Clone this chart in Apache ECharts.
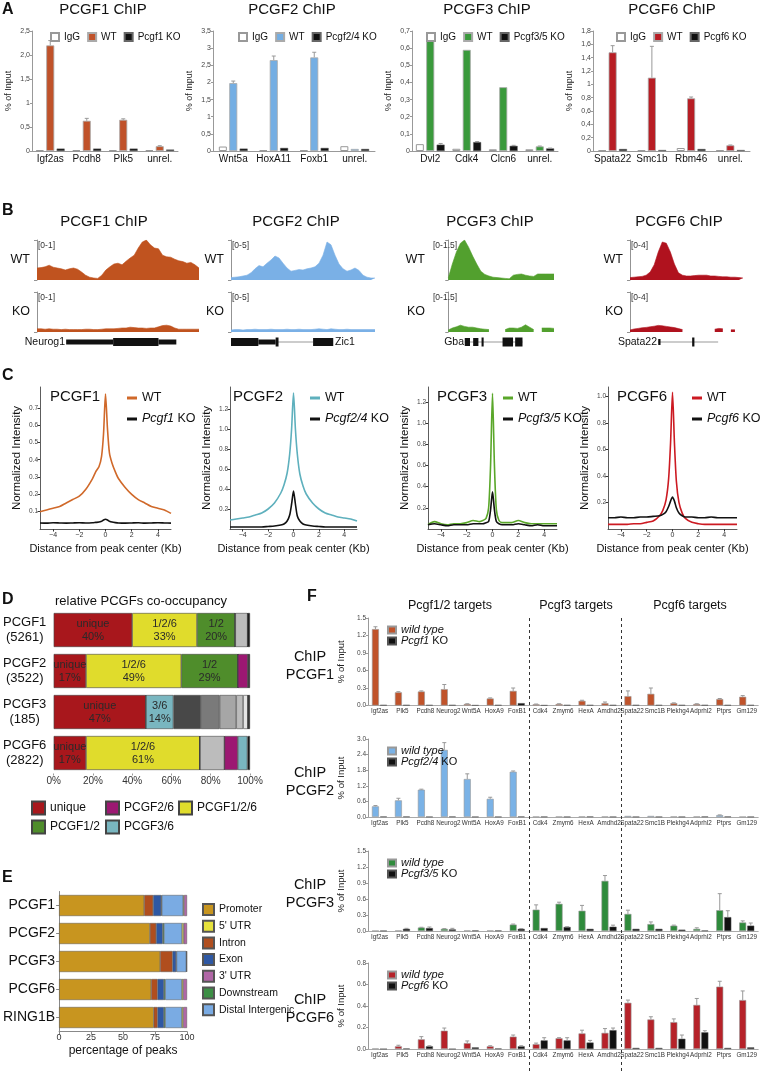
<!DOCTYPE html>
<html><head><meta charset="utf-8">
<script src="https://cdn.jsdelivr.net/npm/echarts@6/dist/echarts.min.js"></script>
<style>html,body{margin:0;padding:0;background:#fff}#c{width:760px;height:1071px}</style>
</head><body><div id="c"></div>
<script>
// ================= DATA =================
// Panel A
const a1Cats = ['Igf2as','Pcdh8','Plk5','unrel.'];
const a1IgG = [0.02,0.02,0.02,0.02];
const a1WT = [2.2,0.63,0.65,0.10];
const a1WTerr = [0.1,0.05,0.02,0.01];
const a1KO = [0.05,0.05,0.05,0.03];
const a1KOerr = [0,0,0,0];
const a1Ticks = ['0','0,5','1','1,5','2,0','2,5'];

const a2Cats = ['Wnt5a','HoxA11','Foxb1','unrel.'];
const a2IgG = [0.13,0.02,0.02,0.14];
const a2WT = [1.98,2.65,2.73,0.06];
const a2WTerr = [0.06,0.12,0.15,0];
const a2KO = [0.07,0.09,0.09,0.06];
const a2KOerr = [0,0,0,0];
const a2Ticks = ['0','0,5','1','1,5','2','2,5','3','3,5'];

const a3Cats = ['Dvl2','Cdk4','Clcn6','unrel.'];
const a3IgG = [0.04,0.013,0.01,0.01];
const a3WT = [0.665,0.59,0.372,0.027];
const a3WTerr = [0,0,0,0.002];
const a3KO = [0.037,0.052,0.03,0.015];
const a3KOerr = [0.007,0.003,0.003,0.002];
const a3Ticks = ['0','0,1','0,2','0,3','0,4','0,5','0,6','0,7'];

const a6Cats = ['Spata22','Smc1b','Rbm46','unrel.'];
const a6IgG = [0.01,0.01,0.045,0.01];
const a6WT = [1.48,1.1,0.79,0.085];
const a6WTerr = [0.1,0.47,0.02,0.005];
const a6KO = [0.03,0.015,0.03,0.015];
const a6KOerr = [0,0,0,0];
const a6Ticks = ['0','0,2','0,4','0,6','0,8','1','1,2','1,4','1,6','1,8'];

// Panel B (genome browser tracks)
const b1WT = [0.30,0.31,0.33,0.37,0.32,0.30,0.28,0.25,0.28,0.30,0.27,0.20,0.12,0.07,0.05,0.04,0.12,0.25,0.33,0.40,0.42,0.38,0.47,0.55,0.62,0.80,0.95,1.0,0.88,0.80,0.78,0.62,0.58,0.57,0.52,0.48,0.46,0.42,0.44,0.38,0.30];
const b1KO = [0.08,0.08,0.07,0.08,0.07,0.07,0.06,0.07,0.06,0.06,0.06,0.06,0.07,0.07,0.06,0.06,0.07,0.08,0.08,0.08,0.09,0.10,0.10,0.12,0.11,0.10,0.10,0.09,0.10,0.10,0.13,0.16,0.17,0.15,0.10,0.07,0.07,0.07,0.07,0.07,0.07];
const b2WT = [0.3,0.35,0.4,0.5,0.6,0.9,1.4,1.8,1.65,2.1,2.5,3.0,2.75,2.1,1.5,1.1,1.2,1.3,1.25,1.4,1.5,1.65,2.1,3.1,4.75,4.4,3.1,2.0,1.4,1.1,1.25,1.5,1.2,0.6,0.35,0.25,0.25];
const b2KO = [0.25,0.3,0.3,0.25,0.3,0.3,0.35,0.3,0.3,0.3,0.35,0.3,0.3,0.3,0.35,0.3,0.3,0.35,0.3,0.3,0.3,0.35,0.4,0.35,0.3,0.4,0.35,0.3,0.3,0.35,0.3,0.3,0.3,0.3,0.3,0.3,0.3];
const b3WT = [0.075,0.6,1.05,1.38,1.5,1.23,0.9,0.6,0.33,0.21,0.15,0.105,0.09,0.075,0.06,0.045,0.18,0.21,0.225,0.18,0.15,0.135,0.225,0.225,0.225,0.225,0.225];
const b3KO = [0.075,0.15,0.195,0.255,0.21,0.18,0.18,0.15,0.12,0.105,0.09,null,null,null,0.09,0.15,0.15,0.135,0.18,0.27,0.18,0.09,null,0.15,0.15,0.15,0.135];
const b6WT = [0.24,0.28,0.32,0.36,0.48,0.8,1.52,2.8,3.8,3.68,2.8,1.6,0.72,0.48,0.4,0.4,0.44,0.48,0.48,0.48,0.4,0.4,0.36,0.32,0.32,0.28,0.28,0.24,0.2];
const b6KO = [0.2,0.3,0.36,0.42,0.46,0.52,0.58,0.66,0.62,0.56,0.5,0.44,0.34,0.24,null,null,null,null,null,null,null,0.28,0.36,0.32,null,0.22,0.22,null,null];
// gene models: [start%, end%, thickness]
const g1Exons = [[18,47,5],[47,75,8],[75,86,5]];
const g2Exons = [[31,57,1],[0,19,8],[19,31,5],[31,33,9],[57,71,8]];
const g3Exons = [[15,70,1],[15,20,8],[23,28,8],[31,33,9],[51,61,9],[63,70,9]];
const g6Exons = [[25,78,1],[55,57,9],[25,27,6]];

// Panel C (profiles)
const cX = [-5,-4.5,-4,-3.5,-3,-2.5,-2,-1.5,-1,-0.75,-0.5,-0.3,-0.15,0,0.15,0.3,0.5,0.75,1,1.5,2,2.5,3,3.5,4,4.5,5];
const cXTicks = [-4,-2,0,2,4];
const c1WT = [0.10,0.11,0.12,0.13,0.15,0.17,0.19,0.23,0.29,0.33,0.36,0.42,0.55,0.78,0.58,0.44,0.38,0.33,0.29,0.24,0.20,0.17,0.15,0.13,0.12,0.11,0.09];
const c1KO = [0.035,0.034,0.036,0.035,0.034,0.035,0.036,0.035,0.036,0.038,0.04,0.045,0.052,0.056,0.052,0.045,0.04,0.037,0.035,0.034,0.035,0.036,0.034,0.035,0.036,0.035,0.034];
const c2WT = [0.09,0.10,0.11,0.12,0.14,0.16,0.20,0.26,0.36,0.44,0.56,0.75,1.0,1.36,1.0,0.75,0.55,0.43,0.35,0.26,0.20,0.16,0.14,0.12,0.11,0.10,0.08];
const c2KO = [0.02,0.02,0.02,0.02,0.02,0.02,0.025,0.03,0.04,0.05,0.08,0.14,0.25,0.38,0.25,0.13,0.08,0.05,0.04,0.03,0.025,0.02,0.02,0.02,0.02,0.02,0.02];
const c3WT = [0.04,0.07,0.05,0.04,0.05,0.05,0.06,0.08,0.07,0.08,0.10,0.20,0.60,1.28,0.60,0.18,0.08,0.06,0.06,0.06,0.08,0.06,0.05,0.05,0.05,0.05,0.05];
const c3KO = [0.04,0.05,0.04,0.03,0.04,0.04,0.04,0.05,0.05,0.05,0.06,0.07,0.18,0.35,0.18,0.07,0.05,0.04,0.04,0.04,0.05,0.04,0.03,0.04,0.03,0.03,0.03];
const c6WT = [0.035,0.035,0.035,0.035,0.04,0.04,0.05,0.06,0.10,0.14,0.22,0.38,0.65,1.03,0.65,0.36,0.20,0.12,0.08,0.05,0.04,0.035,0.035,0.035,0.035,0.035,0.035];
const c6KO = [0.085,0.085,0.09,0.085,0.085,0.09,0.09,0.095,0.10,0.11,0.13,0.17,0.21,0.24,0.21,0.16,0.12,0.10,0.09,0.09,0.085,0.085,0.09,0.085,0.085,0.085,0.085];
const c1Ticks = [0.1,0.2,0.3,0.4,0.5,0.6,0.7];
const c2Ticks = [0.2,0.4,0.6,0.8,1.0,1.2];
const c3Ticks = [0.2,0.4,0.6,0.8,1.0,1.2];
const c6Ticks = [0.2,0.4,0.6,0.8,1.0];

// Panel D (co-occupancy, %)
const dRows = ['PCGF1\n(5261)','PCGF2\n(3522)','PCGF3\n(185)','PCGF6\n(2822)'];
const dUnique = [40,16.5,47,16.5];
const d126 = [33,48.5,0,58];
const d12 = [19.5,28.8,0,0];
const d36 = [0,0,14,0];
const dG44 = [0,0,14,0];
const dG77 = [0,0,9.5,0];
const dGaa = [0,0,8.5,0];
const dGb5 = [6.3,0,3.5,12.5];
const dGe6 = [0,0,2.5,0];
const d26 = [0,5.2,0,6.8];
const d36b = [0,0,0,4.9];
const dBlack = [1.2,1.0,1.0,1.3];
const dLabUnique = ['unique\n40%','unique\n17%','unique\n47%','unique\n17%'];
const dLab126 = ['1/2/6\n33%','1/2/6\n49%','','1/2/6\n61%'];
const dLab12 = ['1/2\n20%','1/2\n29%','',''];
const dLab36 = ['','','3/6\n14%',''];

// Panel E (peak annotation, %)
const eRows = ['PCGF1','PCGF2','PCGF3','PCGF6','RING1B'];
const ePromoter = [66.5,71,79,72,74];
const eIntron = [7,4.9,9.7,5,3];
const eExon = [6.3,5.1,2.8,5,5];
const eDown = [0.5,1,0.3,1,1];
const eDistal = [16.7,14.1,7.7,13,13];
const e5UTR = [0.7,1.3,0.2,1,1];
const e3UTR = [2.3,2.6,0.3,3,3];

// Panel F
const fCats = ['Igf2as','Plk5','Pcdh8','Neurog2','Wnt5A','HoxA9','FoxB1','Cdk4','Zmym6','HexA','Amdhd2','Spata22','Smc1B','Plekhg4','Adprhl2','Ptprs','Gm129'];
const fBoundaries = [7,11];
const f1WT = [1.31,0.226,0.24,0.28,0.025,0.12,0.25,0.02,0.025,0.08,0.04,0.16,0.20,0.04,0.025,0.11,0.15];
const f1WTerr = [0.04,0.01,0.01,0.08,0.005,0.01,0.05,0.005,0.005,0.01,0.02,0.09,0.10,0.005,0.005,0.01,0.02];
const f1KO = [0.01,0.01,0.01,0.01,0.005,0.01,0.04,0.005,0.01,0.01,0.01,0.01,0.01,0.01,0.01,0.01,0.01];
const f1KOerr = [0,0,0,0,0,0,0,0,0,0,0,0,0,0,0,0,0];
const f1Ticks = ['0.0','0.3','0.6','0.9','1.2','1.5'];
const f2WT = [0.41,0.64,1.05,2.58,1.46,0.70,1.74,0.015,0.015,0.02,0.02,0.04,0.04,0.02,0.02,0.07,0.01];
const f2WTerr = [0.03,0.08,0.02,0.28,0.2,0.06,0.03,0,0,0,0,0,0,0,0,0.01,0];
const f2KO = [0.02,0.02,0.01,0.02,0.01,0.01,0.02,0.015,0.01,0.02,0.01,0.01,0.01,0.01,0.02,0.02,0.01];
const f2KOerr = [0,0,0,0,0,0,0,0,0,0,0,0,0,0,0,0,0];
const f2Ticks = ['0.0','0.6','1.2','1.8','2.4','3.0'];
const f3WT = [0.005,0.01,0.065,0.04,0.01,0.01,0.12,0.40,0.51,0.38,0.94,0.32,0.13,0.10,0.04,0.39,0.16];
const f3WTerr = [0,0,0.005,0.005,0,0,0.01,0.09,0.03,0.1,0.1,0.07,0.04,0.01,0.02,0.31,0.03];
const f3KO = [0.005,0.04,0.055,0.03,0.01,0.01,0.04,0.055,0.075,0.04,0.08,0.04,0.04,0.025,0.01,0.26,0.10];
const f3KOerr = [0,0.01,0.02,0.02,0,0,0.005,0,0.005,0,0.03,0,0,0,0,0.12,0.05];
const f3Ticks = ['0.0','0.3','0.6','0.9','1.2','1.5'];
const f6WT = [0.005,0.025,0.09,0.17,0.055,0.025,0.115,0.045,0.10,0.145,0.15,0.43,0.275,0.25,0.41,0.58,0.455];
const f6WTerr = [0,0.01,0.025,0.025,0.02,0.005,0.015,0.01,0.005,0.03,0.04,0.025,0.025,0.03,0.06,0.05,0.085];
const f6KO = [0,0.005,0.025,0,0.015,0.005,0.025,0.08,0.08,0.06,0.175,0.01,0.01,0.095,0.155,0.01,0.015];
const f6KOerr = [0,0,0.005,0,0,0,0.005,0.025,0.025,0.02,0.02,0,0,0.035,0.015,0,0];
const f6Ticks = ['0.0','0.2','0.4','0.6','0.8'];

// ================= BUILD =================
const FONT = '"Liberation Sans", Arial, Helvetica, sans-serif';
const opt = {animation:false, textStyle:{fontFamily:FONT}, grid:[], xAxis:[], yAxis:[], series:[], legend:[], graphic:[]};
function G(r){ opt.grid.push(Object.assign({containLabel:false}, r)); return opt.grid.length-1; }
function axes(gi,x,y){ x.gridIndex=gi; y.gridIndex=gi; opt.xAxis.push(x); opt.yAxis.push(y); }
function T(x,y,text,size,o){ opt.graphic.push({type:'text', x:x, y:y, silent:true, z:50,
  style:Object.assign({text:text, fontSize:size, fontFamily:FONT, fill:'#111', align:'left', verticalAlign:'middle', textAlign:'left', textVerticalAlign:'middle'}, o||{})}); }
function TA(x,y,text,size,align,o){ T(x,y,text,size,Object.assign({align:align,textAlign:align},o||{})); }
const plainFmt = n => n.split('|')[0];
const italFmt = n => { const s=n.split('|')[0]; if(s==='wild type') return '{i|wild type}'; const m=s.match(/^(\S+) KO$/); return m ? '{i|'+m[1]+'} KO' : s; };
function errSeries(gi, vals, errs, offset){
  opt.series.push({type:'custom', xAxisIndex:gi, yAxisIndex:gi, silent:true, z:5,
    data: vals.map((v,i)=>[i, v, errs[i]||0]), encode:{x:0,y:1},
    renderItem:(p,api)=>{ const e=api.value(2); if(!(e>0)) return null; const v=api.value(1);
      const a=api.coord([api.value(0), v]), b=api.coord([api.value(0), v+e]); const x=a[0]+offset;
      return {type:'group', children:[
        {type:'line', shape:{x1:x,y1:a[1],x2:x,y2:b[1]}, style:{stroke:'#999',lineWidth:1}},
        {type:'line', shape:{x1:x-2,y1:b[1],x2:x+2,y2:b[1]}, style:{stroke:'#999',lineWidth:1}}]}; }});
}

// ---- letters ----
[['A',2,10],['B',2,211],['C',2,376],['D',2,600],['E',2,878],['F',307,597]].forEach(l=>T(l[1],l[2],l[0],16,{fontWeight:'bold'}));

// ---- Panel A ----
const aCharts = [
 {key:'a1',left:32,width:146,cats:a1Cats,igg:a1IgG,wt:a1WT,wtErr:a1WTerr,ko:a1KO,koErr:a1KOerr,color:'#c0522a',max:2.5,step:0.5,ticks:a1Ticks,koName:'Pcgf1 KO',title:'PCGF1 ChIP',titleX:103,legendLeft:45},
 {key:'a2',left:213,width:162,cats:a2Cats,igg:a2IgG,wt:a2WT,wtErr:a2WTerr,ko:a2KO,koErr:a2KOerr,color:'#74aee3',max:3.5,step:0.5,ticks:a2Ticks,koName:'Pcgf2/4 KO',title:'PCGF2 ChIP',titleX:292,legendLeft:233},
 {key:'a3',left:412,width:146,cats:a3Cats,igg:a3IgG,wt:a3WT,wtErr:a3WTerr,ko:a3KO,koErr:a3KOerr,color:'#3a9a3c',max:0.7,step:0.1,ticks:a3Ticks,koName:'Pcgf3/5 KO',title:'PCGF3 ChIP',titleX:487,legendLeft:421},
 {key:'a6',left:593,width:157,cats:a6Cats,igg:a6IgG,wt:a6WT,wtErr:a6WTerr,ko:a6KO,koErr:a6KOerr,color:'#b81d24',max:1.8,step:0.2,ticks:a6Ticks,koName:'Pcgf6 KO',title:'PCGF6 ChIP',titleX:672,legendLeft:611}
];
aCharts.forEach(c=>{
  const gi = G({left:c.left, top:31, width:c.width, height:120});
  axes(gi, {type:'category', data:c.cats, axisLine:{lineStyle:{color:'#999'}}, axisTick:{show:false}, axisLabel:{interval:0, fontSize:10, color:'#111', margin:3}},
    {type:'value', min:0, max:c.max, interval:c.step, splitLine:{show:false}, axisLine:{show:true,lineStyle:{color:'#999'}},
     axisTick:{show:true,length:2,lineStyle:{color:'#999'}}, axisLabel:{fontSize:7,color:'#444',margin:2,formatter:v=>c.ticks[Math.round(v/c.step)]||''},
     name:'% of Input', nameLocation:'middle', nameGap:19, nameTextStyle:{fontSize:9,color:'#222'}});
  const base = {type:'bar', xAxisIndex:gi, yAxisIndex:gi, barWidth:8, barGap:'30%', silent:true};
  opt.series.push(Object.assign({},base,{name:'IgG|'+c.key, data:c.igg, itemStyle:{color:'#fff',borderColor:'#999',borderWidth:1}}));
  opt.series.push(Object.assign({},base,{name:'WT|'+c.key, data:c.wt, itemStyle:{color:c.color,borderColor:'#aaa',borderWidth:0.8}}));
  opt.series.push(Object.assign({},base,{name:c.koName+'|'+c.key, data:c.ko, itemStyle:{color:'#111',borderColor:'#666',borderWidth:0.5}}));
  errSeries(gi, c.wt, c.wtErr, 0);
  errSeries(gi, c.ko, c.koErr, 10.4);
  opt.legend.push({data:['IgG|'+c.key,'WT|'+c.key,c.koName+'|'+c.key], left:c.legendLeft, top:27, icon:'rect', itemWidth:8, itemHeight:8, itemGap:7, selectedMode:false, formatter:plainFmt, textStyle:{fontSize:10,color:'#111'}});
  TA(c.titleX, 10, c.title, 15, 'center');
});

// ---- Panel B ----
const bCols = [
 {gl:37,width:162,pad:0,data0:37,dataW:162,wt:b1WT,ko:b1KO,max:1,scale:'[0-1]',color:'#c0531f',title:'PCGF1 ChIP',titleX:104,gene:g1Exons,geneName:'Neurog1',geneX:65,geneAlign:'right'},
 {gl:231,width:144,pad:0,data0:231,dataW:144,wt:b2WT,ko:b2KO,max:5,scale:'[0-5]',color:'#7ab0e6',title:'PCGF2 ChIP',titleX:296,gene:g2Exons,geneName:'Zic1',geneX:335,geneAlign:'left'},
 {gl:432,width:122,pad:4,data0:449,dataW:105,wt:b3WT,ko:b3KO,max:1.5,scale:'[0-1.5]',color:'#52a02e',title:'PCGF3 ChIP',titleX:490,gene:g3Exons,geneName:'Gba',geneX:464,geneAlign:'right'},
 {gl:630,width:113,pad:0,data0:630,dataW:113,wt:b6WT,ko:b6KO,max:4,scale:'[0-4]',color:'#b0121e',title:'PCGF6 ChIP',titleX:679,gene:g6Exons,geneName:'Spata22',geneX:657,geneAlign:'right'}
];
bCols.forEach(c=>{
  TA(c.titleX, 222, c.title, 15, 'center');
  [[c.wt,240,'WT'],[c.ko,292,'KO']].forEach(r=>{
    const vals=r[0], top=r[1];
    const gi = G({left:c.gl, top:top, width:c.width, height:40});
    axes(gi, {type:'value', min:-c.pad, max:vals.length-1, show:false},
      {type:'value', min:0, max:c.max, interval:c.max, offset:3, splitLine:{show:false}, axisLabel:{show:false},
       axisLine:{show:true,lineStyle:{color:'#777',width:0.8}}, axisTick:{show:true,length:3,lineStyle:{color:'#777',width:0.8}}});
    opt.series.push({type:'line', xAxisIndex:gi, yAxisIndex:gi, silent:true, data:vals.map((v,i)=>[i,v]), showSymbol:false, symbol:'none', connectNulls:false,
      lineStyle:{width:0.6,color:c.color}, areaStyle:{color:c.color,opacity:1}});
    T(c.gl+1, top+6, c.scale, 8.5, {fill:'#333'});
    TA(c.gl-7, top+20, r[2], 12.5, 'right');
  });
  const gi = G({left:c.data0, top:337, width:c.dataW, height:10});
  axes(gi, {type:'value', min:0, max:100, show:false}, {type:'value', min:-1, max:1, show:false});
  opt.series.push({type:'custom', xAxisIndex:gi, yAxisIndex:gi, silent:true, data:c.gene, encode:{x:[0,1]},
    renderItem:(p,api)=>{ const s=api.coord([api.value(0),0]), e=api.coord([api.value(1),0]); const h=api.value(2);
      return {type:'rect', shape:{x:s[0], y:s[1]-h/2, width:Math.max(1.2,e[0]-s[0]), height:h}, style:{fill:h<=1?'#999':'#111'}}; }});
  TA(c.geneX, 342, c.geneName, 10.5, c.geneAlign);
});

// ---- Panel C ----
const cCharts = [
 {key:'c1',left:40,width:131,max:0.82,ticks:c1Ticks,wt:c1WT,ko:c1KO,color:'#d0692a',title:'PCGF1',titleX:50,legendLeft:122,koName:'Pcgf1 KO'},
 {key:'c2',left:230,width:127,max:1.42,ticks:c2Ticks,wt:c2WT,ko:c2KO,color:'#5eb0bd',title:'PCGF2',titleX:233,legendLeft:305,koName:'Pcgf2/4 KO'},
 {key:'c3',left:428,width:129,max:1.34,ticks:c3Ticks,wt:c3WT,ko:c3KO,color:'#5aa72a',title:'PCGF3',titleX:437,legendLeft:498,koName:'Pcgf3/5 KO'},
 {key:'c6',left:608,width:129,max:1.07,ticks:c6Ticks,wt:c6WT,ko:c6KO,color:'#cc1a22',title:'PCGF6',titleX:617,legendLeft:687,koName:'Pcgf6 KO'}
];
cCharts.forEach(c=>{
  const gi = G({left:c.left, top:387, width:c.width, height:142});
  axes(gi, {type:'value', min:-5, max:5, splitLine:{show:false}, axisLine:{show:true,onZero:false,lineStyle:{color:'#333',width:0.8}},
      axisTick:{show:true,customValues:cXTicks,length:2.5,lineStyle:{color:'#333'}},
      axisLabel:{customValues:cXTicks,fontSize:7,color:'#333',margin:3,formatter:v=>v<0?'\u2212'+(-v):''+v},
      name:'Distance from peak center (Kb)', nameLocation:'middle', nameGap:14, nameTextStyle:{fontSize:11,color:'#111'}},
    {type:'value', min:0, max:c.max, splitLine:{show:false}, axisLine:{show:true,onZero:false,lineStyle:{color:'#333',width:0.8}},
      axisTick:{show:true,customValues:c.ticks,length:2.5,lineStyle:{color:'#333'}},
      axisLabel:{customValues:c.ticks,fontSize:6.5,color:'#444',margin:2,formatter:v=>v.toFixed(1)},
      name:'Normalized Intensity', nameLocation:'middle', nameGap:17, nameTextStyle:{fontSize:11.5,color:'#111'}});
  opt.series.push({type:'line', name:'WT|'+c.key, xAxisIndex:gi, yAxisIndex:gi, silent:true, data:cX.map((x,i)=>[x,c.wt[i]]), showSymbol:false, symbol:'none', smooth:0.25,
    lineStyle:{color:c.color,width:1.6}, itemStyle:{color:c.color}});
  opt.series.push({type:'line', name:c.koName+'|'+c.key, xAxisIndex:gi, yAxisIndex:gi, silent:true, data:cX.map((x,i)=>[x,c.ko[i]]), showSymbol:false, symbol:'none', smooth:0.25,
    lineStyle:{color:'#111',width:1.6}, itemStyle:{color:'#111'}});
  opt.legend.push({data:['WT|'+c.key, c.koName+'|'+c.key], orient:'vertical', left:c.legendLeft, top:386, icon:'rect', itemWidth:10, itemHeight:3, itemGap:7, selectedMode:false,
    formatter:italFmt, textStyle:{fontSize:12.5,lineHeight:14,color:'#111',rich:{i:{fontStyle:'italic',fontSize:12.5,color:'#111'}}}});
  T(c.titleX, 397, c.title, 15);
});

// ---- Panel D ----
T(141, 601, 'relative PCGFs co-occupancy', 13, {align:'center',textAlign:'center'});
{
  const gi = G({left:53, top:609.5, width:197, height:164});
  axes(gi, {type:'value', min:0, max:100, interval:20, splitLine:{show:false}, axisLine:{show:false},
      axisTick:{show:true,length:2,lineStyle:{color:'#999'}}, axisLabel:{fontSize:10,color:'#333',margin:3,formatter:v=>v+'%'}},
    {type:'category', data:dRows, inverse:true, axisLine:{show:false}, axisTick:{show:false},
      axisLabel:{fontSize:13,color:'#111',lineHeight:15,align:'center',margin:29}});
  const dSeries = [
    ['unique',dUnique,'#a8171c',dLabUnique],['PCGF1/2/6',d126,'#e0dc2c',dLab126],['PCGF1/2',d12,'#4f8d2b',dLab12],['PCGF3/6',d36,'#79b6c0',dLab36],
    ['d44',dG44,'#484848'],['d77',dG77,'#7a7a7a'],['daa',dGaa,'#a6a6a6'],['db5',dGb5,'#bcbcbc'],['de6',dGe6,'#e4e4e4'],
    ['PCGF2/6',d26,'#9c1872'],['PCGF3/6b',d36b,'#79b6c0'],['dk',dBlack,'#111']];
  dSeries.forEach(s=>{
    const ser = {type:'bar', name:s[0], stack:'d', xAxisIndex:gi, yAxisIndex:gi, barWidth:34, silent:true, data:s[1],
      itemStyle:{color:s[2], borderColor:'#444', borderWidth:0.6}};
    if(s[3]){ const labs=s[3]; ser.label={show:true, position:'inside', formatter:p=>labs[p.dataIndex], fontSize:11, lineHeight:13, color:'#2a2a2a'}; }
    opt.series.push(ser);
  });
  [['unique',26,795.5],['PCGF2/6',100,795.5],['PCGF1/2/6',173,795.5],['PCGF1/2',26,814.5],['PCGF3/6',100,814.5]].forEach(l=>{
    opt.legend.push({data:[l[0]], left:l[1], top:l[2], icon:'rect', itemWidth:13, itemHeight:13, selectedMode:false, textStyle:{fontSize:12,color:'#111'}});
  });
}

// ---- Panel E ----
{
  const gi = G({left:57, top:891.5, width:130, height:140});
  axes(gi, {type:'value', min:0, max:100, interval:25, splitLine:{show:false}, axisLine:{show:true,lineStyle:{color:'#888'}},
      axisTick:{show:true,length:3,lineStyle:{color:'#888'}}, axisLabel:{fontSize:9,color:'#333',margin:2},
      name:'percentage of peaks', nameLocation:'middle', nameGap:13.5, nameTextStyle:{fontSize:12,color:'#111'}},
    {type:'category', data:eRows, inverse:true, axisLine:{show:true,lineStyle:{color:'#888'}}, axisTick:{show:true,length:3,alignWithLabel:true,lineStyle:{color:'#888'}},
      axisLabel:{fontSize:14,color:'#111',margin:4}});
  const eSeries = [['Promoter',ePromoter,'#c8951f'],['Intron',eIntron,'#b04e1e'],['Exon',eExon,'#2e58a4'],['Downstream',eDown,'#3c8f45'],
    ['Distal Intergenic',eDistal,'#7aabe3'],["5' UTR",e5UTR,'#e6e23c'],["3' UTR",e3UTR,'#b066a6']];
  eSeries.forEach(s=>opt.series.push({type:'bar', name:s[0], stack:'e', xAxisIndex:gi, yAxisIndex:gi, barWidth:21, silent:true, data:s[1],
    itemStyle:{color:s[2], borderColor:'#555', borderWidth:0.5}}));
  opt.legend.push({data:['Promoter',"5' UTR",'Intron','Exon',"3' UTR",'Downstream','Distal Intergenic'], orient:'vertical', left:197, top:898,
    icon:'rect', itemWidth:11, itemHeight:11, itemGap:3.7, itemTextGap:4, selectedMode:false, textStyle:{fontSize:10.5,lineHeight:12,color:'#111'}});
}

// ---- Panel F ----
TA(450, 606, 'Pcgf1/2 targets', 12.5, 'center');
TA(576, 606, 'Pcgf3 targets', 12.5, 'center');
TA(690, 606, 'Pcgf6 targets', 12.5, 'center');
{
  const gi = G({left:368, top:618, width:392, height:453});
  axes(gi, {type:'value', min:0, max:fCats.length, show:false}, {type:'value', min:0, max:1, show:false});
  opt.series.push({type:'line', xAxisIndex:gi, yAxisIndex:gi, data:[], silent:true,
    markLine:{silent:true, symbol:'none', label:{show:false}, lineStyle:{color:'#333', type:[3,3], width:1}, data:fBoundaries.map(b=>({xAxis:b}))}});
}
const fCharts = [
 {key:'f1',top:618,height:87.5,max:1.5,step:0.3,ticks:f1Ticks,wt:f1WT,wtErr:f1WTerr,ko:f1KO,koErr:f1KOerr,color:'#c0532a',koName:'Pcgf1 KO',legendTop:619.5,row:'PCGF1',rowY:666},
 {key:'f2',top:739,height:78,max:3.0,step:0.6,ticks:f2Ticks,wt:f2WT,wtErr:f2WTerr,ko:f2KO,koErr:f2KOerr,color:'#7ab2e6',koName:'Pcgf2/4 KO',legendTop:740.5,row:'PCGF2',rowY:782},
 {key:'f3',top:851,height:80,max:1.5,step:0.3,ticks:f3Ticks,wt:f3WT,wtErr:f3WTerr,ko:f3KO,koErr:f3KOerr,color:'#2f8b3c',koName:'Pcgf3/5 KO',legendTop:852.5,row:'PCGF3',rowY:894},
 {key:'f6',top:963,height:86,max:0.8,step:0.2,ticks:f6Ticks,wt:f6WT,wtErr:f6WTerr,ko:f6KO,koErr:f6KOerr,color:'#b62229',koName:'Pcgf6 KO',legendTop:964.5,row:'PCGF6',rowY:1008.5}
];
fCharts.forEach(c=>{
  const gi = G({left:368, top:c.top, width:392, height:c.height});
  axes(gi, {type:'category', data:fCats, axisLine:{lineStyle:{color:'#aaa'}}, axisTick:{show:false}, axisLabel:{interval:0,fontSize:6.3,color:'#333',margin:3}},
    {type:'value', min:0, max:c.max, interval:c.step, splitLine:{show:false}, axisLine:{show:true,lineStyle:{color:'#999'}},
     axisTick:{show:true,length:2,lineStyle:{color:'#999'}}, axisLabel:{fontSize:6.5,color:'#444',margin:2,formatter:v=>c.ticks[Math.round(v/c.step)]||''},
     name:'% of Input', nameLocation:'middle', nameGap:14.5, nameTextStyle:{fontSize:9.5,color:'#222'}});
  const base = {type:'bar', xAxisIndex:gi, yAxisIndex:gi, barWidth:7, barGap:'15%', silent:true};
  opt.series.push(Object.assign({},base,{name:'wild type|'+c.key, data:c.wt, itemStyle:{color:c.color,borderColor:'#999',borderWidth:0.6}}));
  opt.series.push(Object.assign({},base,{name:c.koName+'|'+c.key, data:c.ko, itemStyle:{color:'#111',borderColor:'#555',borderWidth:0.5}}));
  errSeries(gi, c.wt, c.wtErr, -4.025);
  errSeries(gi, c.ko, c.koErr, 4.025);
  opt.legend.push({data:['wild type|'+c.key, c.koName+'|'+c.key], orient:'vertical', left:382, top:c.legendTop, icon:'rect', itemWidth:8, itemHeight:7, itemGap:0, selectedMode:false,
    formatter:italFmt, textStyle:{fontSize:11,lineHeight:11,color:'#111',rich:{i:{fontStyle:'italic',fontSize:11,lineHeight:11,color:'#111'}}}});
  TA(310, c.rowY, 'ChIP\n'+c.row, 14.5, 'center', {lineHeight:18});
});

const chart = echarts.init(document.getElementById('c'), null, {renderer:'canvas'});
chart.setOption(opt);
</script></body></html>
